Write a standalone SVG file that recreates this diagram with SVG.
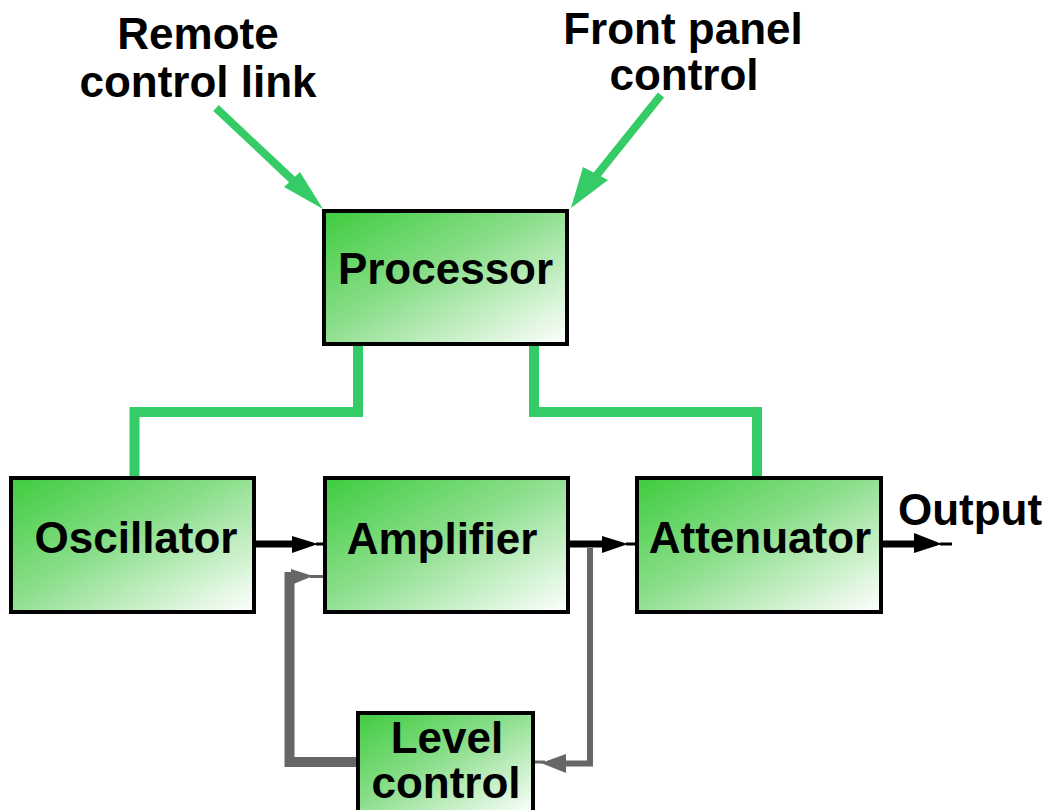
<svg xmlns="http://www.w3.org/2000/svg" width="1047" height="810" viewBox="0 0 1047 810">
  <defs>
    <linearGradient id="boxfill" x1="0" y1="0" x2="1" y2="1">
      <stop offset="0" stop-color="#3ecc3e"/>
      <stop offset="0.45" stop-color="#8ade8a"/>
      <stop offset="1" stop-color="#ffffff"/>
    </linearGradient>
  </defs>
  <style>
    .box { fill: url(#boxfill); stroke: #000; stroke-width: 4; }
    .lbl { font-family: "Liberation Sans", Arial, sans-serif; font-weight: bold; font-size: 44px; fill: #000; text-anchor: middle; }
    .green { fill: none; stroke: #35cc68; stroke-width: 10; stroke-linejoin: miter; stroke-linecap: butt; }
    .greenarr { fill: none; stroke: #35cc68; stroke-width: 8; }
    .greenhead { fill: #35cc68; }
    .blk { fill: none; stroke: #000; stroke-width: 7; }
    .blkhead { fill: #000; }
    .gray { fill: none; stroke: #666; stroke-linejoin: miter; }
    .grayhead { fill: #666; }
  </style>

  <g id="texts">
    <text class="lbl" x="198" y="49">Remote</text>
    <text class="lbl" x="198" y="97">control link</text>
    <text class="lbl" x="683" y="44">Front panel</text>
    <text class="lbl" x="684" y="90">control</text>
    <text class="lbl" x="970" y="525">Output</text>
  </g>

  <g id="connectors">
    <!-- green control arrows into processor -->
    <line class="greenarr" x1="216" y1="108" x2="300" y2="187"/>
    <polygon class="greenhead" points="323,209 284,187 300,172"/>
    <line class="greenarr" x1="661" y1="95" x2="592" y2="181"/>
    <polygon class="greenhead" points="571,208 583,167 608,180"/>
    <!-- processor to oscillator / attenuator -->
    <polyline class="green" points="358,346 358,412 134.5,412 134.5,476"/>
    <polyline class="green" points="534,346 534,412 757,412 757,476"/>
    <!-- black signal path -->
    <line class="blk" x1="256" y1="544" x2="300" y2="544"/>
    <polygon class="blkhead" points="292,536 318,544 292,553"/>
    <line class="blk" x1="316" y1="544" x2="323" y2="544" style="stroke-width:3"/>
    <line class="blk" x1="570" y1="544" x2="610" y2="544"/>
    <polygon class="blkhead" points="602,536 628,544 602,553"/>
    <line class="blk" x1="626" y1="544" x2="635" y2="544" style="stroke-width:3"/>
    <line class="blk" x1="882" y1="544" x2="920" y2="544"/>
    <polygon class="blkhead" points="914,533 942,544 914,553"/>
    <line class="blk" x1="940" y1="544" x2="952" y2="544" style="stroke-width:3"/>
    <!-- gray feedback loop -->
    <polyline class="gray" style="stroke-width:6" points="590,548 590,763.5 566,763.5"/>
    <polygon class="grayhead" points="541,763 566,754 566,773"/>
    <line class="gray" style="stroke-width:3" x1="535" y1="762" x2="545" y2="762"/>
    <polyline class="gray" style="stroke-width:10" points="356,762 289.5,762 289.5,577 296,577"/>
    <polygon class="grayhead" points="291,569 313,576 291,585"/>
    <line class="gray" style="stroke-width:3" x1="310" y1="576.5" x2="323" y2="576.5"/>
  </g>

  <g id="processor">
    <rect class="box" x="324" y="211" width="243" height="133"/>
    <text class="lbl" x="445.5" y="284">Processor</text>
  </g>
  <g id="oscillator">
    <rect class="box" x="11" y="478" width="243" height="134"/>
    <text class="lbl" x="136" y="553">Oscillator</text>
  </g>
  <g id="amplifier">
    <rect class="box" x="325" y="478" width="243" height="134"/>
    <text class="lbl" x="442" y="554">Amplifier</text>
  </g>
  <g id="attenuator">
    <rect class="box" x="637" y="478" width="244" height="134"/>
    <text class="lbl" x="760" y="553">Attenuator</text>
  </g>
  <g id="level-control">
    <rect class="box" x="358" y="713" width="175" height="102"/>
    <text class="lbl" x="447" y="753">Level</text>
    <text class="lbl" x="446" y="798">control</text>
  </g>
</svg>
